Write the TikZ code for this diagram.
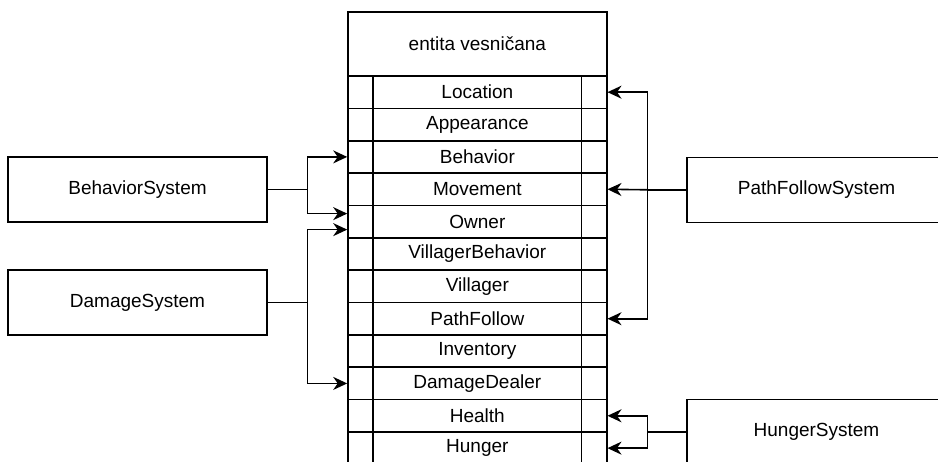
\documentclass[tikz,border=0pt]{standalone}
\usepackage{fontspec}
\setmainfont{Liberation Sans}
\usetikzlibrary{arrows.meta}
\begin{document}
\begin{tikzpicture}[x=1pt,y=-1pt,line width=1.6pt,
  txt/.style={font=\fontsize{19}{23}\selectfont},
  sysbox/.style={draw,rectangle,minimum width=259pt,minimum height=65pt,inner sep=0pt,txt},
  head/.style={draw,rectangle,minimum width=258.7pt,minimum height=64pt,inner sep=0pt,txt},
  cell/.style={draw,rectangle,minimum width=258.7pt,minimum height=32.36pt,inner sep=0pt,txt},
  link/.style={-{Stealth[length=14pt,width=13pt,inset=4.5pt]}}]
\useasboundingbox (0,0) rectangle (938,461);
\begin{scope}
\clip (0,0) rectangle (938,461);
% entity table
\node[head] (hdr) at (477.35,44) {entita vesničana};
\foreach \nm/\lbl [count=\i from 0] in {location/Location,appearance/Appearance,behavior/Behavior,movement/Movement,owner/Owner,vbehavior/VillagerBehavior,villager/Villager,pathfollow/PathFollow,inventory/Inventory,dealer/DamageDealer,health/Health,hunger/Hunger}
  \node[cell] (\nm) at (477.35,{76+(\i+0.5)*32.36}) {\lbl};
% inner column separators
\draw ([xshift=26pt]location.north west) -- ([xshift=26pt]hunger.south west);
\draw ([xshift=-26pt]location.north east) -- ([xshift=-26pt]hunger.south east);
% systems
\node[sysbox] (bs) at (137.5,189.5) {BehaviorSystem};
\node[sysbox] (ds) at (137.5,302.5) {DamageSystem};
\node[sysbox] (pfs) at (816.5,189.8) {PathFollowSystem};
\node[sysbox] (hs) at (816.5,432) {HungerSystem};
% branching points
\coordinate (jb) at (307.5,189.5);
\coordinate (jd) at (307.5,302.5);
\coordinate (jp) at (647.5,189.8);
\coordinate (jh) at (647.5,432);
% connectors
\draw (bs.east) -- (jb);
\draw[link] (jb) |- (behavior.west);
\draw[link] (jb) |- ([yshift=8pt]owner.west);
\draw (ds.east) -- (jd);
\draw[link] (jd) |- ([yshift=-8pt]owner.west);
\draw[link] (jd) |- (dealer.west);
\draw (pfs.west) -- (jp);
\draw[link] (jp) -- (movement.east);
\draw[link] (jp) |- (location.east);
\draw[link] (jp) |- (pathfollow.east);
\draw (hs.west) -- (jh);
\draw[link] (jh) |- (health.east);
\draw[link] (jh) |- (hunger.east);
\end{scope}
\end{tikzpicture}
\end{document}
